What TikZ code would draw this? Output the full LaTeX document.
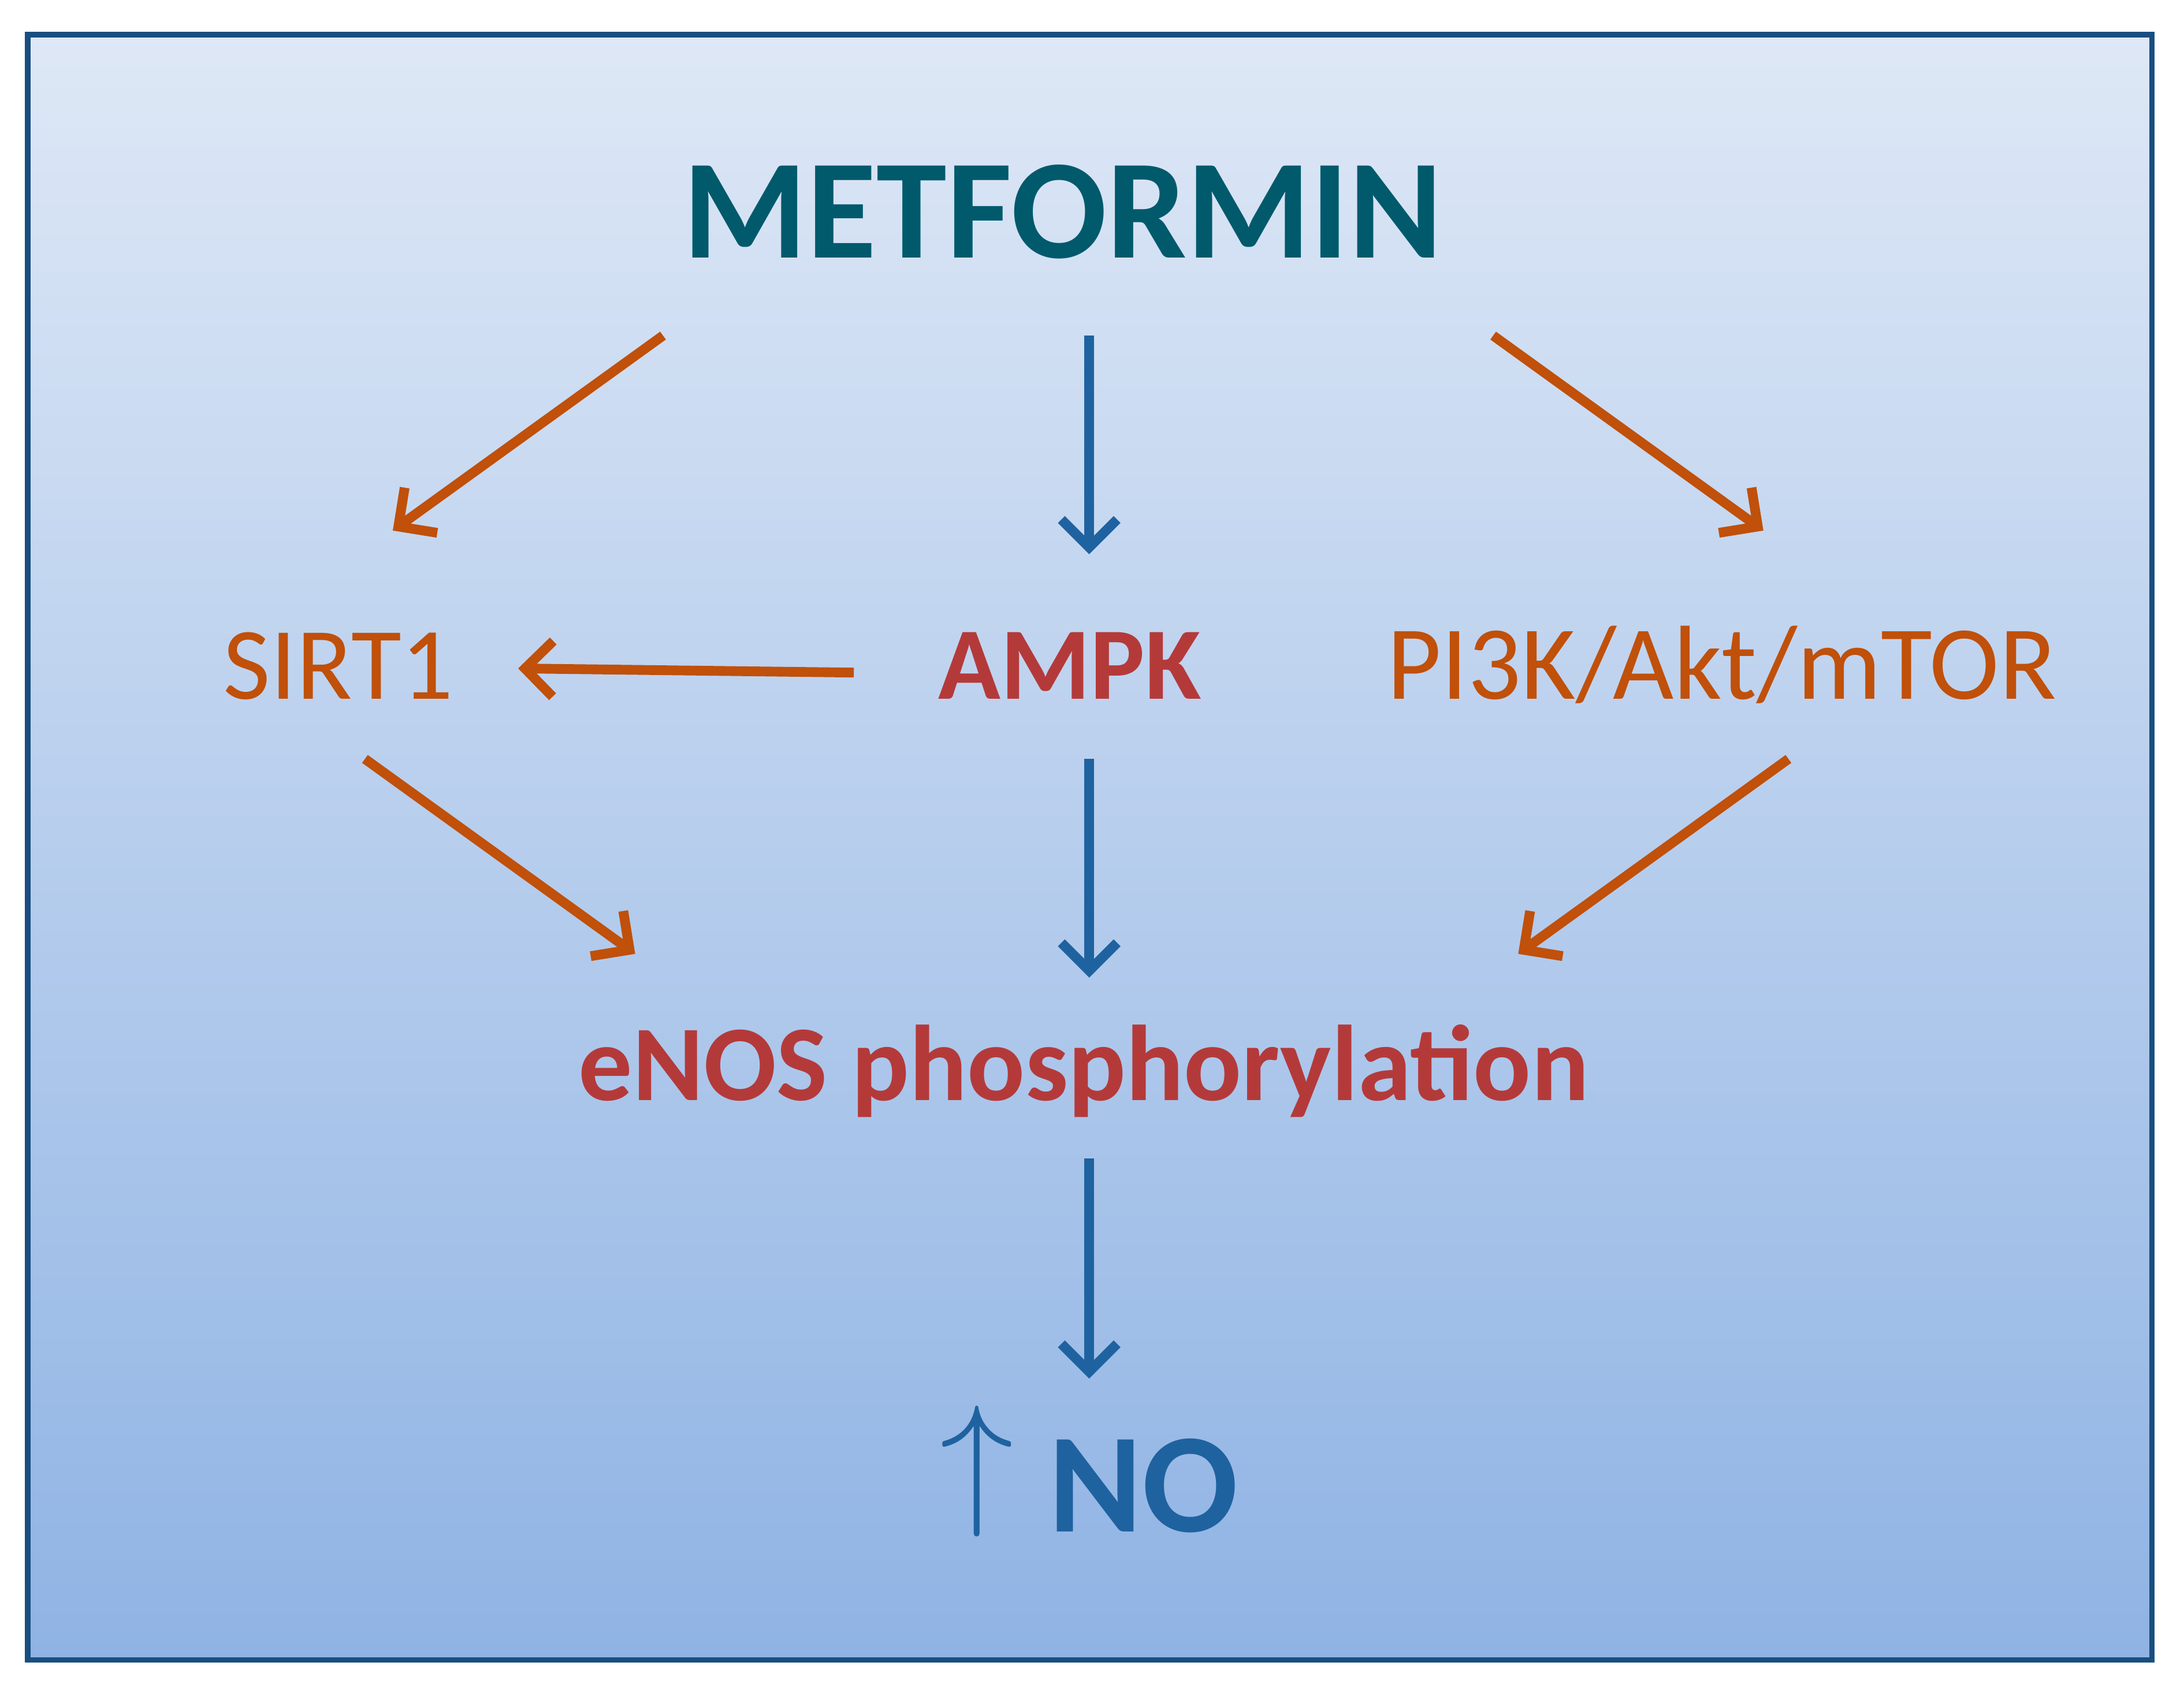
\documentclass[tikz,border=0pt]{standalone}
\usepackage{fontspec}
\setmainfont{Carlito}
\usetikzlibrary{arrows.meta}
\definecolor{teal}{HTML}{005A6C}
\definecolor{orng}{HTML}{C0500A}
\definecolor{redd}{HTML}{B43A3A}
\definecolor{blu}{HTML}{1F62A0}
\definecolor{topc}{HTML}{DEE8F6}
\definecolor{botc}{HTML}{8FB3E4}
\begin{document}
\begin{tikzpicture}[x=0.02cm,y=-0.02cm,
  arr/.style={line width=0.14cm,-{Straight Barb[length=0.4cm,width=0.8cm,line width=0.14cm]}},
  oa/.style={arr,draw=orng},
  ba/.style={arr,draw=blu},
  lbl/.style={inner sep=0pt,anchor=base}]
\useasboundingbox (0,0) rectangle (1568,1215);
\shade[top color=topc,bottom color=botc] (20,25) rectangle (1545,1192);
\draw[line width=0.08cm,draw=blu!80!black] (20,25) rectangle (1545,1192);
\node[lbl,font=\bfseries\fontsize{58}{60}\selectfont,text=teal] (met) at (763,185) {METFORMIN};
\node[lbl,font=\fontsize{42}{44}\selectfont,text=orng] (sirt) at (243,502) {SIRT1};
\node[lbl,font=\bfseries\fontsize{42}{44}\selectfont,text=redd] (ampk) at (768,502) {AMPK};
\node[lbl,font=\fontsize{43}{44}\selectfont,text=orng] (pi3k) at (1236,502) {PI3K/Akt/mTOR};
\node[lbl,font=\bfseries\fontsize{44}{46}\selectfont,text=redd] (enos) at (778,790) {eNOS phosphorylation};
\node[lbl,font=\bfseries\fontsize{58}{60}\selectfont,text=blu] (no) at (782,1100) {\raisebox{0.34cm}{\resizebox{!}{1.47cm}{$\uparrow$}}\hspace{0.5cm}NO};
\coordinate (a1s) at (476,241); \coordinate (a1e) at (282,381);
\coordinate (a2s) at (782,241); \coordinate (a2e) at (782,398);
\coordinate (a3s) at (1072,241); \coordinate (a3e) at (1266,381);
\coordinate (a4s) at (613,483); \coordinate (a4e) at (372,480);
\coordinate (a5s) at (262,545); \coordinate (a5e) at (456,685);
\coordinate (a6s) at (782,545); \coordinate (a6e) at (782,702);
\coordinate (a7s) at (1284,545); \coordinate (a7e) at (1090,685);
\coordinate (a8s) at (782,832); \coordinate (a8e) at (782,990);
\draw[oa] (a1s) -- (a1e);
\draw[ba] (a2s) -- (a2e);
\draw[oa] (a3s) -- (a3e);
\draw[oa] (a4s) -- (a4e);
\draw[oa] (a5s) -- (a5e);
\draw[ba] (a6s) -- (a6e);
\draw[oa] (a7s) -- (a7e);
\draw[ba] (a8s) -- (a8e);
\end{tikzpicture}
\end{document}
